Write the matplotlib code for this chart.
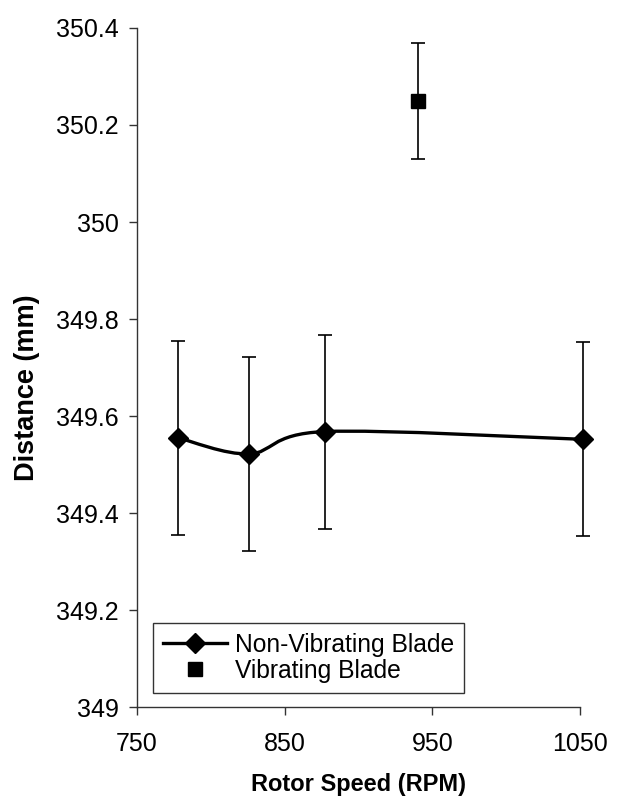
import matplotlib
matplotlib.use("Agg")
import matplotlib.pyplot as plt
from matplotlib.path import Path
from matplotlib.patches import PathPatch
from matplotlib.lines import Line2D
import numpy as np

plt.rcParams['font.family'] = ['Liberation Sans', 'DejaVu Sans']

# Data
nonvib_rpm = [778, 826, 877, 1052]
nonvib_dist = [349.555, 349.522, 349.568, 349.552]
nonvib_err = [0.2, 0.2, 0.2, 0.2]

vib_rpm = [940]
vib_dist = [350.25]
vib_err = [0.12]

x_ticks = [750, 850, 950, 1050]
y_ticks = [349, 349.2, 349.4, 349.6, 349.8, 350, 350.2, 350.4]
y_tick_labels = ["349", "349.2", "349.4", "349.6", "349.8", "350", "350.2", "350.4"]

fig = plt.figure(figsize=(6.17, 7.99), dpi=100)
ax = fig.add_axes([0.222, 0.115, 0.718, 0.85])

# Smoothed line (Excel-style Bezier through the data points)
px = np.array(nonvib_rpm, dtype=float)
py = np.array(nonvib_dist, dtype=float)
n = len(px)
verts = [(px[0], py[0])]
codes = [Path.MOVETO]
for i in range(n - 1):
    im1 = max(i - 1, 0)
    ip2 = min(i + 2, n - 1)
    c1 = (px[i] + (px[i + 1] - px[im1]) / 6, py[i] + (py[i + 1] - py[im1]) / 6)
    c2 = (px[i + 1] - (px[ip2] - px[i]) / 6, py[i + 1] - (py[ip2] - py[i]) / 6)
    verts += [c1, c2, (px[i + 1], py[i + 1])]
    codes += [Path.CURVE4, Path.CURVE4, Path.CURVE4]
ax.add_patch(PathPatch(Path(verts, codes), fill=False, edgecolor='black', lw=2.4,
                       zorder=3, clip_on=False))

ax.errorbar(nonvib_rpm, nonvib_dist, yerr=nonvib_err, fmt='none', ecolor='black',
            elinewidth=1.2, capsize=5, capthick=1.2, zorder=2, clip_on=False)
ax.plot(nonvib_rpm, nonvib_dist, linestyle='none', marker='D', markersize=10.2,
        color='black', zorder=4, clip_on=False)

ax.errorbar(vib_rpm, vib_dist, yerr=vib_err, fmt='none', ecolor='black',
            elinewidth=1.2, capsize=5, capthick=1.2, zorder=2, clip_on=False)
ax.plot(vib_rpm, vib_dist, linestyle='none', marker='s', markersize=10,
        color='black', zorder=4, clip_on=False)

ax.set_xlim(750, 1050)
ax.set_ylim(349, 350.4)
ax.set_xticks(x_ticks)
ax.set_yticks(y_ticks)
ax.set_yticklabels(y_tick_labels)

for s in ['top', 'right']:
    ax.spines[s].set_visible(False)
for s in ['left', 'bottom']:
    ax.spines[s].set_color('#333333')
    ax.spines[s].set_linewidth(1.0)

ax.tick_params(axis='both', direction='out', length=6, width=1.0, color='#333333',
               labelsize=18, labelcolor='black')
ax.tick_params(axis='y', pad=7)
ax.tick_params(axis='x', pad=12)

ax.set_xlabel('Rotor Speed (RPM)', fontsize=17, fontweight='bold', labelpad=12.5)
ax.set_ylabel('Distance (mm)', fontsize=19.5, fontweight='bold')
ax.yaxis.set_label_coords(-0.219, 0.47)

handles = [
    Line2D([], [], color='black', lw=2.4, marker='D', markersize=10.2),
    Line2D([], [], color='black', linestyle='none', marker='s', markersize=10),
]
leg = ax.legend(handles, ['Non-Vibrating Blade', 'Vibrating Blade'], loc='lower left',
                bbox_to_anchor=(0.036, 0.021), fontsize=17.7, frameon=True, fancybox=False,
                framealpha=1, edgecolor='#333333', borderpad=0.4, labelspacing=0.1,
                handlelength=2.6, handletextpad=0.35, borderaxespad=0)
leg.get_frame().set_linewidth(1.0)

fig.savefig('out.png', dpi=100)
